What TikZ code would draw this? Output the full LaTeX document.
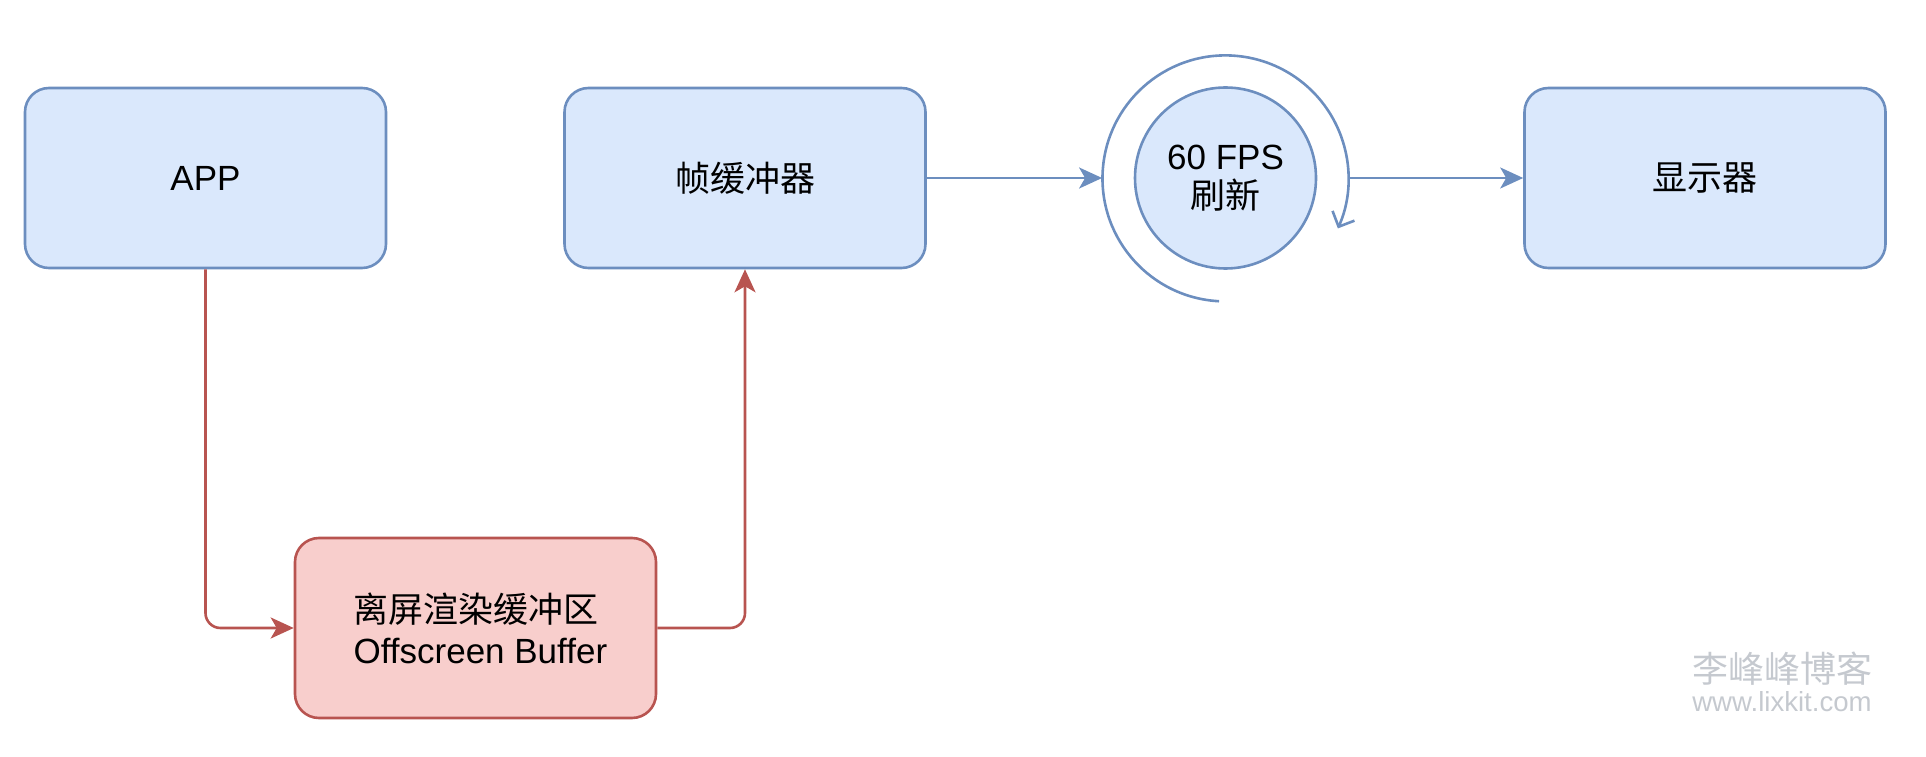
\documentclass[tikz,border=0pt]{standalone}
\usepackage{fontspec}
\setmainfont{Liberation Sans}
\newfontfamily\cjk{Noto Sans CJK SC}
\usetikzlibrary{arrows.meta,positioning}
\definecolor{bluefill}{HTML}{DAE8FC}
\definecolor{bluestroke}{HTML}{6C8EBF}
\definecolor{redfill}{HTML}{F8CECC}
\definecolor{redstroke}{HTML}{B85450}
\definecolor{markgray}{HTML}{C5C9CF}

\begin{document}
\begin{tikzpicture}[x=0.5pt,y=0.5pt,
    bluebox/.style={draw=bluestroke,fill=bluefill,line width=1.3pt,rounded corners=12pt,
      minimum width=180.5pt,minimum height=90pt,align=center,font=\fontsize{17.5}{20.5}\selectfont},
    redbox/.style={bluebox,draw=redstroke,fill=redfill},
    bluearrow/.style={draw=bluestroke,line width=1.3pt,-{Stealth[length=11.5pt,width=10.5pt,inset=3pt]}},
    redarrow/.style={draw=redstroke,line width=1.3pt,rounded corners=7.5pt,-{Stealth[length=11.5pt,width=10.5pt,inset=3pt]}},
    wmark/.style={text=markgray,inner sep=0pt}]
    \useasboundingbox (0,0) rectangle (1926,756);

    \node[bluebox] (app) at (205.5,578) {APP};
    \node[bluebox] (frame) at (745,578) {\cjk 帧缓冲器};
    \node[bluebox] (disp) at (1705,578) {\cjk 显示器};
    \node[redbox] (off) at (475.5,128) {\cjk 离屏渲染缓冲区\\ \ Offscreen Buffer};

    % 60 FPS refresh with its loop
    \node[circle,draw=bluestroke,fill=bluefill,line width=1.3pt,minimum size=90.5pt,inner sep=0pt,
      align=center,font=\fontsize{17.5}{19.5}\selectfont] (fps) at (1225.5,578) {60 FPS\\ {\cjk 刷新}};
    \node[circle,minimum size=123pt,inner sep=0pt] (ring) at (fps) {};
    \draw[draw=bluestroke,line width=1.3pt,-{Straight Barb[length=6pt,width=12pt]}]
      (ring.267) arc[start angle=267,end angle=-24,radius=123];

    \draw[bluearrow] (frame) -- (ring);
    \draw[bluearrow] (ring) -- (disp);
    \draw[redarrow] (app.south) |- (off.west);
    \draw[redarrow] (off.east) -| (frame.south);

    \node[wmark,font=\cjk\fontsize{18}{18}\selectfont] (wm1) at (1782,87) {李峰峰博客};
    \node[wmark,font=\fontsize{13.8}{14}\selectfont] (wm2) at (1782,54) {www.lixkit.com};
\end{tikzpicture}
\end{document}
